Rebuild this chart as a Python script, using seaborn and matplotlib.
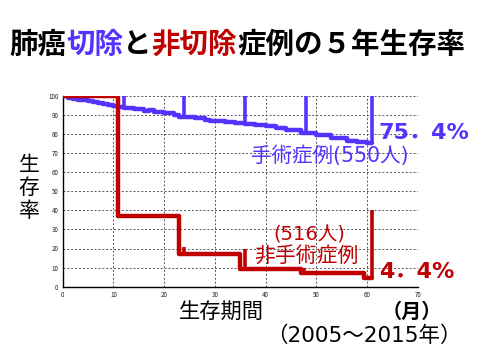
"""Lung cancer 5-year survival: resected vs non-resected cases."""

import matplotlib

matplotlib.use("Agg")
import matplotlib.pyplot as plt
import numpy as np
import pandas as pd
import seaborn as sns

# Survival curves (months, %)
surg_t = [0, 1, 2, 3, 4, 5, 6, 7, 8, 9, 10, 11, 12, 14, 16, 17, 18, 20, 22, 23,
          24, 26, 28, 29, 30, 32, 34, 36, 38, 40, 42, 44, 47, 48, 50, 53, 56, 58, 60, 61]
surg_s = [100, 99, 98.5, 98, 97.5, 97, 96.5, 96, 95.5, 95, 94.5, 94, 93.5, 93, 92, 92.5,
          91.5, 91, 90, 89, 89, 88.5, 87.5, 87, 87, 86, 85.5, 85, 84.5, 84, 83, 82, 80.5,
          80.5, 79.5, 78, 76.5, 76, 75.4, 75.4]
surg_spike_t = [12, 17, 24, 30, 36, 47, 48, 61]
surg_spike_top = [100, 93.5, 100, 88, 100, 82, 100, 100]

nonsurg_t = [0, 11, 23, 35, 47, 59.5, 61]
nonsurg_s = [100, 37, 17, 9.5, 7, 4.4, 4.4]
nonsurg_spike_t = [24, 36, 47.5, 61]
nonsurg_spike_top = [21, 20, 10, 40]

x_ticks = [0, 10, 20, 30, 40, 50, 60, 70]
y_ticks = [0, 10, 20, 30, 40, 50, 60, 70, 80, 90, 100]

BLUE = "#5533ff"
RED = "#c00000"
FONT = ["Noto Sans CJK JP", "DejaVu Sans"]
NUM_FONT = ["DejaVu Sans", "Noto Sans CJK JP"]  # wider digits, CJK falls back

sns.set_theme(style="white")
plt.rcParams["font.family"] = FONT


def step_value(ts, ss, t):
    """Value of a post-step curve at time t."""
    idx = np.searchsorted(ts, t, side="right") - 1
    return ss[max(idx, 0)]


def px(x, y):
    """Pixel position (from top-left) to figure fraction."""
    return x / 480, 1 - y / 360


fig = plt.figure(figsize=(4.8, 3.6), dpi=100)
fig.patch.set_facecolor("white")
ax = fig.add_axes([62.7 / 480, 1 - 286.7 / 360, 355 / 480, 191 / 360])

surg = pd.DataFrame({"t": surg_t, "s": surg_s})
nonsurg = pd.DataFrame({"t": nonsurg_t, "s": nonsurg_s})

sns.lineplot(data=surg, x="t", y="s", ax=ax, color=BLUE, lw=3.2,
             drawstyle="steps-post", estimator=None, sort=False, zorder=3)
sns.lineplot(data=nonsurg, x="t", y="s", ax=ax, color=RED, lw=3.2,
             drawstyle="steps-post", estimator=None, sort=False, zorder=4)

ax.vlines(surg_spike_t,
          [step_value(surg_t, surg_s, t) for t in surg_spike_t],
          surg_spike_top, color=BLUE, lw=2.6, zorder=3)
ax.vlines(nonsurg_spike_t,
          [step_value(nonsurg_t, nonsurg_s, t) for t in nonsurg_spike_t],
          nonsurg_spike_top, color=RED, lw=2.6, zorder=4)

ax.set_xlim(0, 70)
ax.set_ylim(0, 100)
ax.set_xticks(x_ticks)
ax.set_yticks(y_ticks)
ax.set_xlabel("")
ax.set_ylabel("")
ax.tick_params(axis="both", labelsize=4.5, length=0, pad=3, colors="#222222")
ax.grid(True, color="#555555", lw=0.7, ls=(0, (2, 2)))
for side in ["top", "right"]:
    ax.spines[side].set_visible(False)
for side in ["left", "bottom"]:
    ax.spines[side].set_color("black")
    ax.spines[side].set_linewidth(1.0)

# Title with coloured words, placed segment by segment
title_parts = [("肺癌", "black"), ("切除", BLUE), ("と", "black"),
               ("非切除", RED), ("症例の５年生存率", "black")]
renderer = fig.canvas.get_renderer()
x0, y0 = px(9, 45)
for txt, col in title_parts:
    t = fig.text(x0, y0, txt, color=col, fontsize=20.5, fontweight="bold",
                 va="center", ha="left", family=FONT)
    bb = t.get_window_extent(renderer=renderer)
    x0 += bb.width / 480

fig.text(*px(29, 188), "生\n存\n率", fontsize=15, va="center", ha="center",
         linespacing=1.05, color="black")
fig.text(*px(379, 133), "75．4%", color=BLUE, fontsize=16, fontweight="bold",
         va="center", ha="left", family=NUM_FONT)
fig.text(*px(251, 156), "手術症例(550人)", color=BLUE, fontsize=14.8,
         va="center", ha="left", family=NUM_FONT)
fig.text(*px(273, 235), "(516人)", color=RED, fontsize=14,
         va="center", ha="left", family=NUM_FONT)
fig.text(*px(254, 257), "非手術症例", color=RED, fontsize=15, va="center", ha="left")
fig.text(*px(379, 272), "4．4%", color=RED, fontsize=16, fontweight="bold",
         va="center", ha="left", family=NUM_FONT)
fig.text(*px(382, 311), "（月）", color="black", fontsize=14.5, fontweight="bold",
         va="center", ha="left")
fig.text(*px(179, 313), "生存期間", color="black", fontsize=15.3, va="center", ha="left")
fig.text(*px(266, 336), "（2005～2015年）", color="black", fontsize=15.5,
         va="center", ha="left", family=NUM_FONT)

fig.savefig("out.png", dpi=100)
plt.close(fig)
